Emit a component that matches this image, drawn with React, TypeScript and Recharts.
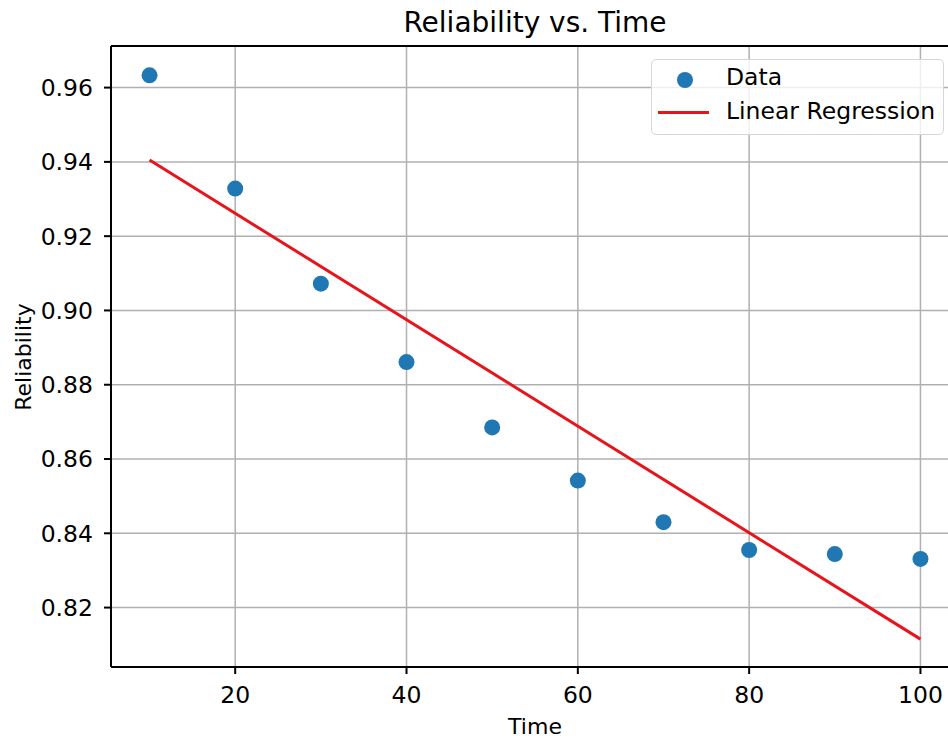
import { ComposedChart, Scatter, Line, XAxis, YAxis, CartesianGrid, ReferenceLine } from 'recharts'

const times = [10, 20, 30, 40, 50, 60, 70, 80, 90, 100]
const reliability = [0.9633, 0.9328, 0.9072, 0.8861, 0.8685, 0.8542, 0.8430, 0.8355, 0.8344, 0.8331]

const fitTimes = [10, 100]
const fitValues = [0.9405, 0.8115]

const xTicks = [20, 40, 60, 80, 100]
const yTicks = [0.82, 0.84, 0.86, 0.88, 0.9, 0.92, 0.94, 0.96]

const points = times.map((x, i) => ({ x, y: reliability[i] }))
const fit = fitTimes.map((x, i) => ({ x, y: fitValues[i] }))

const FONT = '"DejaVu Sans", sans-serif'
const BLUE = '#1f77b4'
const RED = '#e8141c'
const X_DOMAIN: [number, number] = [5.5, 104.5]
const Y_DOMAIN: [number, number] = [0.804, 0.9712]

const Dot = (props: any) => <circle cx={props.cx} cy={props.cy} r={8} fill={BLUE} />

export default function App() {
  const tickStyle = { fill: '#000', fontSize: 23.5, fontFamily: FONT }
  return (
    <div style={{ position: 'absolute', left: 0, top: 0, width: 948, height: 740, overflow: 'hidden', background: '#fff', fontFamily: FONT, color: '#000' }}>
      <ComposedChart width={1000} height={740} margin={{ top: 46, right: 41, bottom: 0, left: 0 }}>
        <CartesianGrid stroke="#b0b0b0" strokeWidth={1.5} />
        <XAxis
          type="number"
          dataKey="x"
          domain={X_DOMAIN}
          ticks={xTicks}
          height={73}
          tickSize={7}
          tickMargin={12}
          tick={tickStyle}
          tickLine={{ stroke: '#000', strokeWidth: 2 }}
          axisLine={{ stroke: '#000', strokeWidth: 2 }}
          allowDataOverflow
        />
        <YAxis
          type="number"
          domain={Y_DOMAIN}
          ticks={yTicks}
          width={111}
          tickSize={7}
          tickMargin={11}
          tick={tickStyle}
          tickFormatter={(v: number) => v.toFixed(2)}
          tickLine={{ stroke: '#000', strokeWidth: 2 }}
          axisLine={{ stroke: '#000', strokeWidth: 2 }}
          allowDataOverflow
        />
        <ReferenceLine y={Y_DOMAIN[1]} stroke="#000" strokeWidth={2} />
        <ReferenceLine x={X_DOMAIN[1]} stroke="#000" strokeWidth={2} />
        <Scatter data={points} dataKey="y" shape={Dot} isAnimationActive={false} />
        <Line data={fit} dataKey="y" stroke={RED} strokeWidth={3} dot={false} activeDot={false} isAnimationActive={false} />
      </ComposedChart>

      <div style={{ position: 'absolute', left: 535, top: 8.5, transform: 'translateX(-50%)', fontSize: 28, lineHeight: '28px', whiteSpace: 'nowrap' }}>
        Reliability vs. Time
      </div>
      <div style={{ position: 'absolute', left: 535, top: 716, transform: 'translateX(-50%)', fontSize: 22, lineHeight: '22px', whiteSpace: 'nowrap' }}>
        Time
      </div>
      <div style={{ position: 'absolute', left: 24, top: 357, transform: 'translate(-50%, -50%) rotate(-90deg)', fontSize: 22, lineHeight: '22px', whiteSpace: 'nowrap' }}>
        Reliability
      </div>

      <div style={{ position: 'absolute', left: 651, top: 59, width: 293, height: 76, border: '1.5px solid #d6d6d6', borderRadius: 5, background: 'rgba(255,255,255,0.8)', boxSizing: 'border-box' }} />
      <div style={{ position: 'absolute', left: 677, top: 72, width: 16, height: 16, borderRadius: '50%', background: BLUE }} />
      <div style={{ position: 'absolute', left: 658, top: 110.5, width: 51, height: 3, background: RED }} />
      <div style={{ position: 'absolute', left: 726, top: 66, fontSize: 23.5, lineHeight: '23.5px', whiteSpace: 'nowrap' }}>Data</div>
      <div style={{ position: 'absolute', left: 726, top: 100, fontSize: 23.5, lineHeight: '23.5px', whiteSpace: 'nowrap' }}>Linear Regression</div>
    </div>
  )
}
